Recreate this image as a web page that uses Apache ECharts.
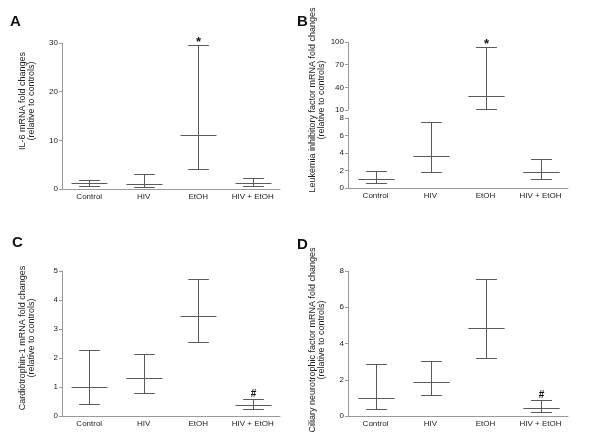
<!DOCTYPE html>
<html><head><meta charset="utf-8">
<script src="https://cdn.jsdelivr.net/npm/echarts@6/dist/echarts.min.js"></script>
<style>html,body{margin:0;padding:0;background:#fff}#c{width:600px;height:446px}</style>
</head><body><div id="c"></div>
<script>
const categories = ['Control', 'HIV', 'EtOH', 'HIV + EtOH'];

const A_mean  = [1.15, 1.1, 11.0, 1.3];
const A_upper = [1.9, 3.15, 29.5, 2.3];
const A_lower = [0.55, 0.35, 4.05, 0.6];
const A_marks = ['', '', '*', ''];

const B_mean  = [1.0, 3.64, 28.8, 1.85];
const B_upper = [1.9, 7.55, 93, 3.26];
const B_lower = [0.57, 1.78, 11.7, 0.99];
const B_marks = ['', '', '*', ''];
const B_topIdx = [2];

const C_mean  = [1.0, 1.30, 3.46, 0.37];
const C_upper = [2.26, 2.13, 4.73, 0.57];
const C_lower = [0.42, 0.78, 2.54, 0.25];
const C_marks = ['', '', '', '#'];

const D_mean  = [1.0, 1.85, 4.88, 0.42];
const D_upper = [2.85, 3.01, 7.54, 0.86];
const D_lower = [0.37, 1.14, 3.18, 0.22];
const D_marks = ['', '', '', '#'];

const titles = {
  A: 'IL-6 mRNA fold changes\n(relative to controls)',
  B: 'Leukemia inhibitory factor mRNA fold changes\n(relative to controls)',
  C: 'Cardiotrophin-1 mRNA fold changes\n(relative to controls)',
  D: 'Ciliary neurotrophic factor mRNA fold changes\n(relative to controls)'
};

const FONT = '"Liberation Sans", Arial, Helvetica, sans-serif';
const LINE = '#5a5a5a';
const AXIS = '#9a9a9a';

function rows(mean, upper, lower, idx) {
  return idx.map(i => [i, mean[i], upper[i], lower[i]]);
}
function makeRender(marks) {
  return function (params, api) {
    const i = api.value(0);
    const m = api.coord([i, api.value(1)]);
    const hi = api.coord([i, api.value(2)]);
    const lo = api.coord([i, api.value(3)]);
    const bw = api.size([1, 0])[0];
    const mw = bw * 0.33, cw = bw * 0.19;
    const st = { stroke: LINE, lineWidth: 1 };
    const x = Math.round(m[0]) + 0.5;
    const r = v => Math.round(v) + 0.5;
    const ch = [
      { type: 'line', shape: { x1: x, y1: r(lo[1]), x2: x, y2: r(hi[1]) }, style: st },
      { type: 'line', shape: { x1: x - cw, y1: r(hi[1]), x2: x + cw, y2: r(hi[1]) }, style: st },
      { type: 'line', shape: { x1: x - cw, y1: r(lo[1]), x2: x + cw, y2: r(lo[1]) }, style: st },
      { type: 'line', shape: { x1: x - mw, y1: r(m[1]), x2: x + mw, y2: r(m[1]) }, style: st }
    ];
    const mk = marks[i];
    if (mk) {
      ch.push({ type: 'text', x: x, y: hi[1] - (mk === '*' ? 3 : 5),
        style: { text: mk, fill: '#111', font: 'bold ' + (mk === '*' ? 13 : 10) + 'px ' + FONT,
          align: 'center', verticalAlign: 'middle' } });
    }
    return { type: 'group', children: ch };
  };
}

const grids = [
  { left: 62, top: 43, width: 218, height: 146 },   // A
  { left: 348, top: 42, width: 220, height: 68 },   // B top
  { left: 348, top: 118, width: 220, height: 70 },  // B bottom
  { left: 62, top: 271, width: 218, height: 145 },  // C
  { left: 348, top: 271, width: 220, height: 145 }  // D
];

function xAx(g, show) {
  return {
    type: 'category', gridIndex: g, data: categories, show: show,
    axisLine: { lineStyle: { color: AXIS, width: 1 } }, axisTick: { show: false },
    axisLabel: { interval: 0, fontSize: 8, color: '#222', fontFamily: FONT, margin: 4 }
  };
}
function yAx(g, min, max, interval) {
  return {
    type: 'value', gridIndex: g, min: min, max: max, interval: interval,
    axisLine: { show: true, lineStyle: { color: AXIS, width: 1 } },
    axisTick: { show: true, length: 3, lineStyle: { color: AXIS } },
    splitLine: { show: false },
    axisLabel: { fontSize: 8, color: '#222', fontFamily: FONT, margin: 4 }
  };
}

const all = [0, 1, 2, 3];
const series = [
  { type: 'custom', xAxisIndex: 0, yAxisIndex: 0, renderItem: makeRender(A_marks), data: rows(A_mean, A_upper, A_lower, all) },
  { type: 'custom', xAxisIndex: 1, yAxisIndex: 1, renderItem: makeRender(B_marks), data: rows(B_mean, B_upper, B_lower, B_topIdx) },
  { type: 'custom', xAxisIndex: 2, yAxisIndex: 2, renderItem: makeRender(B_marks), data: rows(B_mean, B_upper, B_lower, all.filter(i => B_topIdx.indexOf(i) < 0)) },
  { type: 'custom', xAxisIndex: 3, yAxisIndex: 3, renderItem: makeRender(C_marks), data: rows(C_mean, C_upper, C_lower, all) },
  { type: 'custom', xAxisIndex: 4, yAxisIndex: 4, renderItem: makeRender(D_marks), data: rows(D_mean, D_upper, D_lower, all) }
];

function titleText(x, y, txt) {
  return { type: 'text', x: x, y: y, rotation: Math.PI / 2,
    style: { text: txt, font: '9px ' + FONT, fill: '#222', align: 'center', verticalAlign: 'middle', lineHeight: 9 } };
}
function letter(x, y, t) {
  return { type: 'text', x: x, y: y, style: { text: t, font: 'bold 15px ' + FONT, fill: '#111', align: 'left', verticalAlign: 'middle' } };
}

const chart = echarts.init(document.getElementById('c'), null, { renderer: 'canvas' });
chart.setOption({
  animation: false,
  backgroundColor: '#fff',
  grid: grids,
  xAxis: [xAx(0, true), xAx(1, false), xAx(2, true), xAx(3, true), xAx(4, true)],
  yAxis: [yAx(0, 0, 30, 10), yAx(1, 10, 100, 30), yAx(2, 0, 8, 2), yAx(3, 0, 5, 1), yAx(4, 0, 8, 2)],
  series: series,
  graphic: [
    letter(10, 22, 'A'), letter(297, 22, 'B'), letter(12, 243, 'C'), letter(297, 245, 'D'),
    titleText(27, 101, titles.A), titleText(317, 100, titles.B),
    titleText(27, 338, titles.C), titleText(317, 340, titles.D)
  ]
});
</script></body></html>
